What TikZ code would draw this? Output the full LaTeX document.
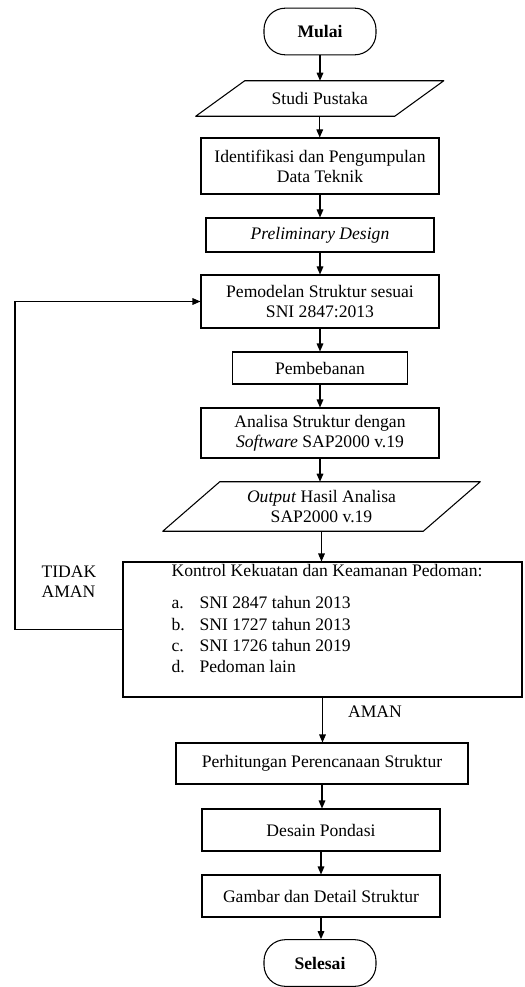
\documentclass[tikz,border=0pt]{standalone}
\usepackage{fontspec}
\setmainfont{Liberation Serif}
\usetikzlibrary{arrows.meta}

\begin{document}
\begin{tikzpicture}[x=0.75pt,y=-0.75pt,
		every node/.style={font=\fontsize{13.2}{15}\selectfont,align=center,inner sep=0pt},
		box/.style={draw,line width=0.8pt,minimum width=178.5pt},
		terminal/.style={draw,line width=0.8pt,rounded corners=16pt,minimum width=84pt,
			minimum height=35pt,font=\fontsize{13.2}{15}\selectfont\bfseries},
		iobox/.style={rectangle},
		outline/.style={line width=0.8pt,line join=round},
		flow/.style={-{Triangle[length=6pt,width=5pt]},line width=0.8pt}]
		\useasboundingbox (0,0) rectangle (524,987);

		% Start and input
		\node[terminal] (mulai) at (320,31.5) {Mulai};
		\node[iobox,minimum width=148.9pt,minimum height=26.25pt] (studi) at (319.75,98.5)
			{Studi Pustaka};
		\draw[outline] ([xshift=18.4pt]studi.north west) -- ([xshift=18.4pt]studi.north east)
			-- ([xshift=-18.4pt]studi.south east) -- ([xshift=-18.4pt]studi.south west) -- cycle;

		% Preparation steps
		\node[box,minimum height=42pt] (identifikasi) at (320,166)
			{Identifikasi dan Pengumpulan\\Data Teknik};
		\node[box,minimum width=171pt,minimum height=25.5pt] (prelim) at (320,235)
			{\textit{Preliminary Design}};
		\node[box,minimum height=39.75pt] (pemodelan) at (320,301.5)
			{Pemodelan Struktur sesuai\\SNI 2847:2013};
		\node[box,minimum width=131.25pt,minimum height=24pt] (pembebanan) at (320,368)
			{Pembebanan};
		\node[box,minimum height=37.5pt] (analisa) at (320,433)
			{Analisa Struktur dengan\\\textit{Software} SAP2000 v.19};
		\node[iobox,minimum width=195pt,minimum height=36.75pt] (output) at (321.5,506.5)
			{\textit{Output} Hasil Analisa\\SAP2000 v.19};
		\draw[outline] ([xshift=21.4pt]output.north west) -- ([xshift=21.4pt]output.north east)
			-- ([xshift=-21.4pt]output.south east) -- ([xshift=-21.4pt]output.south west) -- cycle;

		% Check against the codes
		\node[box,minimum width=299.25pt,minimum height=101.25pt] (kontrol) at (322.5,629.5) {};
		\node[align=left] (kontroltext) at (327,619)
			{Kontrol Kekuatan dan Keamanan Pedoman:\\[9pt]
			\makebox[21pt][l]{a.}SNI 2847 tahun 2013\\[1pt]
			\makebox[21pt][l]{b.}SNI 1727 tahun 2013\\[1pt]
			\makebox[21pt][l]{c.}SNI 1726 tahun 2019\\[1pt]
			\makebox[21pt][l]{d.}Pedoman lain};

		% Design steps and end
		\node[box,minimum width=219pt,minimum height=30.75pt] (perhitungan) at (322,763.5)
			{Perhitungan Perencanaan Struktur};
		\node[box,minimum height=31.5pt] (desain) at (321,830) {Desain Pondasi};
		\node[box,minimum height=31.5pt] (gambar) at (321,896) {Gambar dan Detail Struktur};
		\node[terminal] (selesai) at (320,963) {Selesai};

		% Main flow
		\foreach \a/\b in {mulai/studi,studi/identifikasi,identifikasi/prelim,
			prelim/pemodelan,pemodelan/pembebanan,pembebanan/analisa,analisa/output,
			output/kontrol,kontrol/perhitungan,perhitungan/desain,desain/gambar,
			gambar/selesai} {
			\draw[flow] (\a.south) -- (\a.south |- \b.north);
		}
		\node (aman) at (375,712) {AMAN};

		% Loop back when not safe
		\coordinate (loopx) at (15,630);
		\draw[flow] (kontrol.west) -- (kontrol.west -| loopx) |- (pemodelan.west);
		\node[align=left] (tidakaman) at (69,582) {TIDAK\\AMAN};
	\end{tikzpicture}
\end{document}
